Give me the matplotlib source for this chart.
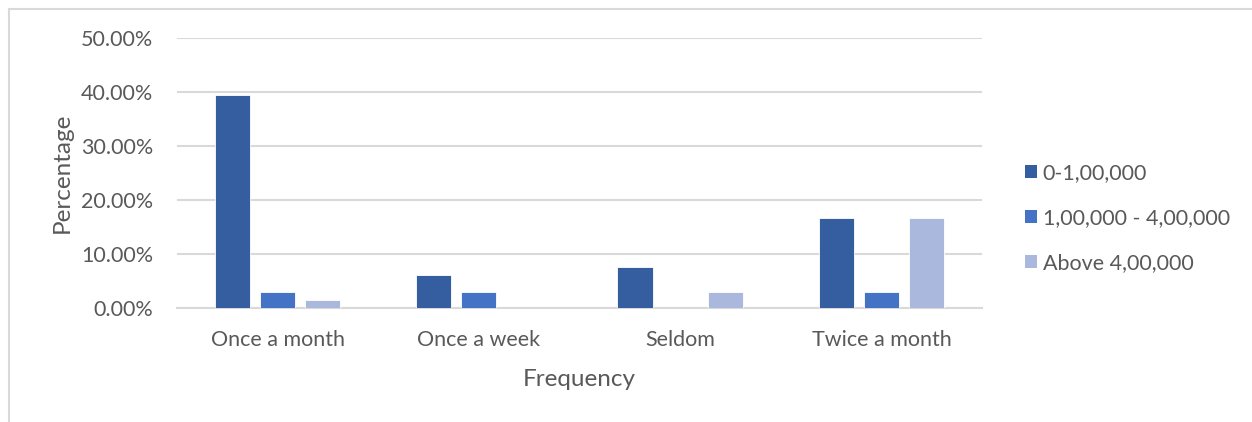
import matplotlib
matplotlib.use("Agg")
import matplotlib.pyplot as plt
import numpy as np
from matplotlib.patches import Patch
from matplotlib.lines import Line2D

categories = ["Once a month", "Once a week", "Seldom", "Twice a month"]
series_names = ["0-1,00,000", "1,00,000 - 4,00,000", "Above 4,00,000"]
low_income = [39.39, 6.06, 7.58, 16.67]
mid_income = [3.03, 3.03, 0.0, 3.03]
high_income = [1.52, 0.0, 3.03, 16.67]
y_ticks = [0, 10, 20, 30, 40, 50]
y_tick_labels = ["0.00%", "10.00%", "20.00%", "30.00%", "40.00%", "50.00%"]

colors = ["#355EA0", "#4472C4", "#A9B8DC"]
text_color = "#595959"
grid_color = "#D9D9D9"
font = ["Lato", "DejaVu Sans"]

W, H = 1252, 422
fig = plt.figure(figsize=(W / 100, H / 100), dpi=100)
plt.rcParams["font.family"] = font

# outer chart frame (only top and left edges visible)
fig.add_artist(Line2D([9 / W, 9 / W], [0, 1 - 9 / H], color="#D9D9D9", lw=1.5))
fig.add_artist(Line2D([9 / W, 1], [1 - 9 / H, 1 - 9 / H], color="#D9D9D9", lw=1.5))

ax = fig.add_axes([177 / W, 1 - 308 / H, (982 - 177) / W, (308 - 38) / H])

x = np.arange(len(categories))
bw = 0.175
step = 0.224
for i, (vals, name) in enumerate(zip([low_income, mid_income, high_income], series_names)):
    ax.bar(x + (i - 1) * step, vals, width=bw, color=colors[i], label=name,
           edgecolor="white", linewidth=0.6, zorder=3)

ax.set_xlim(-0.5, len(categories) - 0.5)
ax.set_ylim(0, 50)
ax.set_yticks(y_ticks)
ax.set_yticklabels(y_tick_labels)
ax.set_xticks(x)
ax.set_xticklabels(categories)
ax.grid(axis="y", color=grid_color, lw=1.5, zorder=0)
ax.set_axisbelow(True)
for s in ["top", "right", "left"]:
    ax.spines[s].set_visible(False)
ax.spines["bottom"].set_color(grid_color)
ax.spines["bottom"].set_linewidth(1.5)
ax.tick_params(axis="both", length=0, labelsize=15.5, colors=text_color)
ax.tick_params(axis="y", pad=17)
ax.tick_params(axis="x", pad=16)

fig.text(62 / W, 1 - 173 / H, "Percentage", rotation=90, ha="center", va="center",
         fontsize=17.5, color=text_color)
fig.text(579 / W, 1 - 379 / H, "Frequency", ha="center", va="center",
         fontsize=17.5, color=text_color)

handles = [Patch(facecolor=c, edgecolor="none") for c in colors]
fig.legend(handles, series_names, loc="center left", bbox_to_anchor=(1006 / W, 1 - 218 / H),
           frameon=False, fontsize=15.5, labelcolor=text_color, handlelength=0.55,
           handleheight=0.55, handletextpad=0.25, labelspacing=1.15)

fig.savefig("out.png", dpi=100, facecolor="white")
